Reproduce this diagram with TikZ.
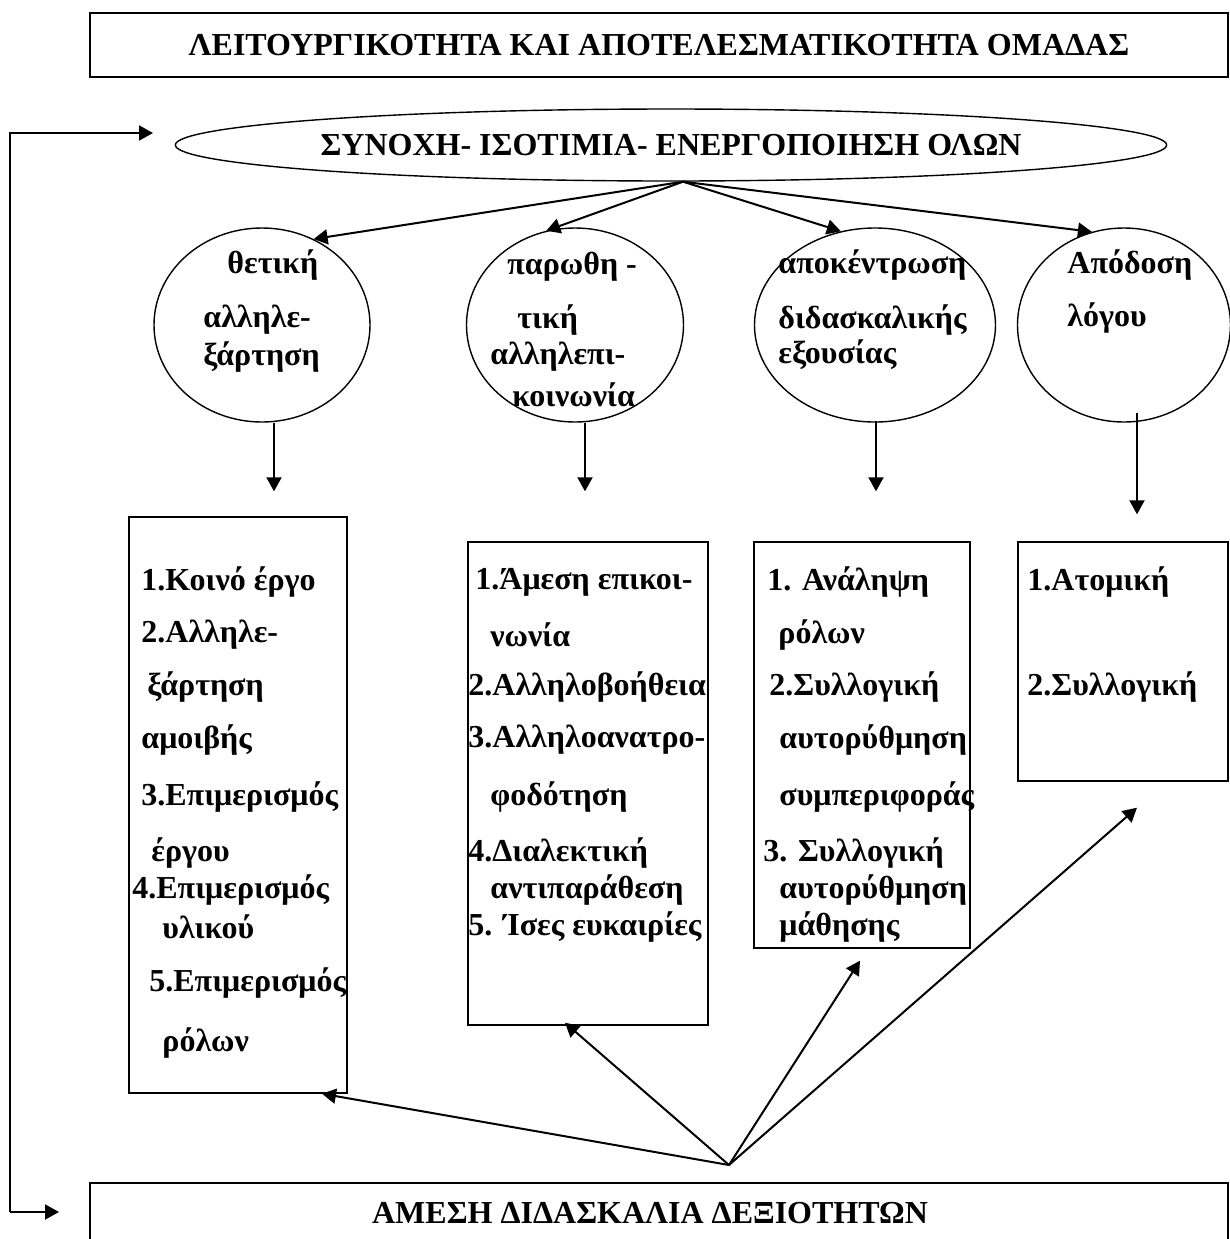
\documentclass[tikz,border=0pt]{standalone}
\usepackage{fontspec}
\setmainfont{Liberation Serif}
\usetikzlibrary{arrows.meta, calc, shapes.geometric}

\tikzset{
  every node/.style={font=\fontsize{16}{18}\selectfont\bfseries},
  oval/.style={draw, ellipse, line width=0.7pt, inner sep=0pt},
  frame/.style={draw, rectangle, line width=0.7pt, inner sep=0pt},
  item/.style={anchor=west, inner sep=0pt},
  arr/.style={-{Triangle[length=7pt,width=7.5pt]}, line width=1pt},
}

\begin{document}
\begin{tikzpicture}[x=0.5pt, y=-0.5pt]
  \useasboundingbox (0,0) rectangle (1230,1239);

  % top and bottom frames
  \node[frame, line width=1pt, minimum width=569pt, minimum height=32pt] (title) at (659,45)
    {ΛΕΙΤΟΥΡΓΙΚΟΤΗΤΑ ΚΑΙ ΑΠΟΤΕΛΕΣΜΑΤΙΚΟΤΗΤΑ ΟΜΑΔΑΣ};
  \node[frame, line width=1.1pt, minimum width=569pt, minimum height=50pt, anchor=north] (skills) at (659,1182) {};
  \node (skillstext) at (650,1213) {ΑΜΕΣΗ ΔΙΔΑΣΚΑΛΙΑ ΔΕΞΙΟΤΗΤΩΝ};

  % main ellipse
  \node[oval, minimum width=493pt, minimum height=36pt] (unity) at (671,145)
    {ΣΥΝΟΧΗ- ΙΣΟΤΙΜΙΑ- ΕΝΕΡΓΟΠΟΙΗΣΗ ΟΛΩΝ};

  % four circles
  \node[oval, minimum width=108pt, minimum height=97pt] (c1) at (262,325) {};
  \node[oval, minimum width=108.5pt, minimum height=97pt] (c2) at (575,325) {};
  \node[oval, minimum width=120.5pt, minimum height=97pt] (c3) at (875,325) {};
  \node[oval, minimum width=106.5pt, minimum height=97pt] (c4) at (1124,325) {};

  \foreach \x/\y/\t in {227/265/θετική, 203/320/αλληλε-, 203/357/ξάρτηση,
      507/267/παρωθη -, 517/320/τική, 490/357/αλληλεπι-, 512/395/κοινωνία,
      778/265/αποκέντρωση, 778/320/διδασκαλικής, 778/355/εξουσίας,
      1067/265/Απόδοση, 1067/318/λόγου}
    \node[item] at (\x,\y) {\t};

  % four boxes
  \node[frame, minimum width=109pt, minimum height=288pt] (b1) at (238,805) {};
  \node[frame, minimum width=120pt, minimum height=241.5pt] (b2) at (588,783.5) {};
  \node[frame, minimum width=108pt, minimum height=203pt] (b3) at (862,745) {};
  \node[frame, minimum width=105pt, minimum height=119.5pt] (b4) at (1123,661.5) {};

  \foreach \x/\y/\t in {141/582/1.Κοινό έργο, 141/635/2.Αλληλε-, 147/687/ξάρτηση,
      141/740/αμοιβής, 141/797/3.Επιμερισμός, 151/853/έργου, 132/890/4.Επιμερισμός,
      162/927/υλικού, 149/983/5.Επιμερισμός, 162/1043/ρόλων}
    \node[item] at (\x,\y) {\t};

  \foreach \x/\y/\t in {475/582/1.Άμεση επικοι-, 490/635/νωνία, 468/687/2.Αλληλοβοήθεια,
      468/740/3.Αλληλοανατρο-, 490/797/φοδότηση, 468/853/4.Διαλεκτική,
      490/890/αντιπαράθεση, 468/927/5. Ίσες ευκαιρίες}
    \node[item] at (\x,\y) {\t};

  \foreach \x/\y/\t in {767/582/1. Ανάληψη, 778/635/ρόλων, 769/687/2.Συλλογική,
      779/740/αυτορύθμηση, 779/797/συμπεριφοράς, 763/853/3. Συλλογική,
      779/890/αυτορύθμηση, 779/927/μάθησης}
    \node[item] at (\x,\y) {\t};

  \node[item] at (1027,582) {1.Ατομική};
  \node[item] at (1027,687) {2.Συλλογική};

  % arrows from the ellipse
  \draw[arr] ([xshift=6pt]unity.south) -- (c1.59);
  \draw[arr] ([xshift=6pt]unity.south) -- (c2.107);
  \draw[arr] ([xshift=6pt]unity.south) -- (c3.110);
  \draw[arr] ([xshift=6pt]unity.south) -- (c4.109);

  % circles to boxes
  \draw[arr] ([xshift=6pt]c1.south) -- ($(b1.north)+(36,-25)$);
  \draw[arr] ([xshift=5pt]c2.south) -- ($(b2.north)+(-3,-50)$);
  \draw[arr] ($(c3.south)+(1,-2)$) -- ($(b3.north)+(14,-50)$);
  \draw[arr] ($(c4.south)+(13,-10)$) -- ($(b4.north)+(14,-27)$);

  % arrows from the skills frame
  \coordinate (base) at (729,1165);
  \draw[arr] (base) -- ($(b1.south)+(84,0)$);
  \draw[arr] (base) -- ($(b2.south)+(-23,-3)$);
  \draw[arr] (base) -- ($(b3.south)+(-2,12)$);
  \draw[arr] (base) -- ($(b4.south)+(14,26)$);

  % feedback loop on the left
  \coordinate (corner) at (10,1212);
  \coordinate (loopA) at (153,133);
  \coordinate (loopB) at (59,1212);
  \draw[arr] (corner) -- (loopB);
  \draw[arr] (corner) |- (loopA);
\end{tikzpicture}
\end{document}
